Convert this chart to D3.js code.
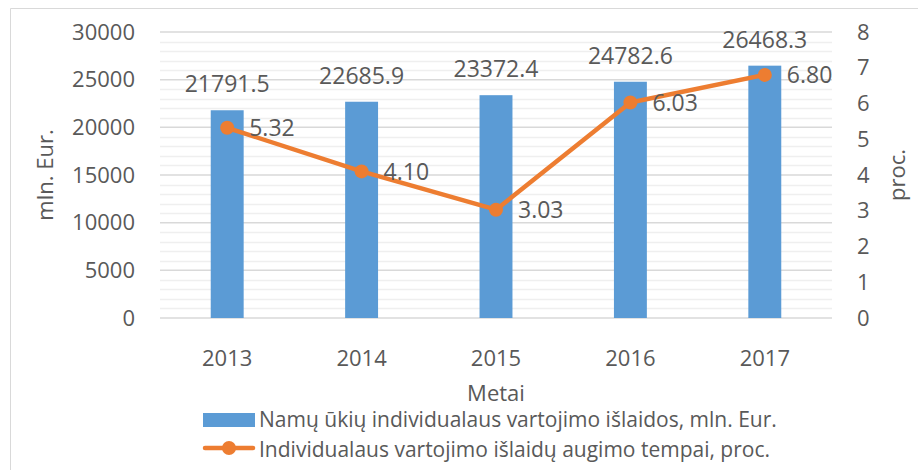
<!DOCTYPE html>
<html>
<head>
<meta charset="utf-8">
<script src="https://cdn.jsdelivr.net/npm/d3@7"></script>
<style>
  body { margin: 0; background: #fff; }
  text { font-family: "Open Sans", sans-serif; fill: #595959; }
</style>
</head>
<body>
<div id="chart"></div>
<script>
const years = ["2013", "2014", "2015", "2016", "2017"];
const spending = [21791.5, 22685.9, 23372.4, 24782.6, 26468.3];
const growth = [5.32, 4.10, 3.03, 6.03, 6.80];
const leftTicks = [0, 5000, 10000, 15000, 20000, 25000, 30000];
const rightTicks = [0, 1, 2, 3, 4, 5, 6, 7, 8];
const seriesNames = [
    "Namų ūkių individualaus vartojimo išlaidos, mln. Eur.",
    "Individualaus vartojimo išlaidų augimo tempai, proc."
];

const width = 918, height = 470;
const plot = { left: 160, right: 832, top: 32, bottom: 318 };
const blue = "#5B9BD5", orange = "#ED7D31";

const svg = d3.select("#chart").append("svg")
    .attr("width", width)
    .attr("height", height);

// frame (only top and left edges show in the crop)
svg.append("path")
    .attr("d", `M10.5,${height} V8.5 H${width}`)
    .attr("fill", "none")
    .attr("stroke", "#d9d9d9")
    .attr("stroke-width", 1);

const x = d3.scaleBand().domain(years).range([plot.left, plot.right]).padding(0);
const yL = d3.scaleLinear().domain([0, 30000]).range([plot.bottom, plot.top]);
const yR = d3.scaleLinear().domain([0, 8]).range([plot.bottom, plot.top]);

// minor gridlines
const grid = svg.append("g");
grid.selectAll("line.minor")
    .data(d3.range(0, 30001, 1000).filter(d => d % 5000 !== 0))
    .join("line")
    .attr("class", "minor")
    .attr("x1", plot.left).attr("x2", plot.right)
    .attr("y1", d => Math.round(yL(d)) + 0.5).attr("y2", d => Math.round(yL(d)) + 0.5)
    .attr("stroke", "#efefef").attr("stroke-width", 1.5);

// major gridlines
grid.selectAll("line.major")
    .data(leftTicks)
    .join("line")
    .attr("class", "major")
    .attr("x1", plot.left).attr("x2", plot.right)
    .attr("y1", d => yL(d)).attr("y2", d => yL(d))
    .attr("stroke", "#d9d9d9").attr("stroke-width", 1.5);

// left axis
const leftAxis = svg.append("g")
    .attr("transform", `translate(${plot.left - 25},0)`)
    .call(d3.axisLeft(yL).tickValues(leftTicks).tickSize(0).tickPadding(0).tickFormat(d3.format("d")));
leftAxis.select(".domain").remove();
leftAxis.selectAll("text").attr("font-size", 22).attr("font-family", "Open Sans").attr("fill", "#595959");

// right axis
const rightAxis = svg.append("g")
    .attr("transform", `translate(${plot.right + 25},0)`)
    .call(d3.axisRight(yR).tickValues(rightTicks).tickSize(0).tickPadding(0));
rightAxis.select(".domain").remove();
rightAxis.selectAll("text").attr("font-size", 22).attr("font-family", "Open Sans").attr("fill", "#595959");

// x axis
const xAxis = svg.append("g")
    .attr("transform", `translate(0,${plot.bottom + 32})`)
    .call(d3.axisBottom(x).tickSize(0).tickPadding(0));
xAxis.select(".domain").remove();
xAxis.selectAll("text").attr("font-size", 22).attr("font-family", "Open Sans").attr("fill", "#595959");

// axis titles
svg.append("text")
    .attr("transform", `translate(53,175) rotate(-90)`)
    .attr("text-anchor", "middle")
    .attr("font-size", 22)
    .text("mln. Eur.");
svg.append("text")
    .attr("transform", `translate(905,175) rotate(-90)`)
    .attr("text-anchor", "middle")
    .attr("font-size", 22)
    .text("proc.");
svg.append("text")
    .attr("x", (plot.left + plot.right) / 2)
    .attr("y", 401)
    .attr("text-anchor", "middle")
    .attr("font-size", 22)
    .text("Metai");

// bars
const barWidth = x.bandwidth() * 0.245;
svg.append("g").selectAll("rect")
    .data(years)
    .join("rect")
    .attr("x", (d) => x(d) + x.bandwidth() / 2 - barWidth / 2)
    .attr("width", barWidth)
    .attr("y", (d, i) => yL(spending[i]))
    .attr("height", (d, i) => yL(0) - yL(spending[i]))
    .attr("fill", blue);

// bar labels
svg.append("g").selectAll("text")
    .data(years)
    .join("text")
    .attr("x", d => x(d) + x.bandwidth() / 2)
    .attr("y", (d, i) => yL(spending[i]) - 18)
    .attr("text-anchor", "middle")
    .attr("font-size", 23)
    .attr("fill", "#404040")
    .text((d, i) => d3.format(".1f")(spending[i]));

// growth line
const line = d3.line()
    .x(d => x(d) + x.bandwidth() / 2)
    .y((d, i) => yR(growth[i]));
svg.append("path")
    .datum(years)
    .attr("d", line)
    .attr("fill", "none")
    .attr("stroke", orange)
    .attr("stroke-width", 4.5)
    .attr("stroke-linejoin", "round");

svg.append("g").selectAll("circle")
    .data(years)
    .join("circle")
    .attr("cx", d => x(d) + x.bandwidth() / 2)
    .attr("cy", (d, i) => yR(growth[i]))
    .attr("r", 7)
    .attr("fill", orange);

// line labels
svg.append("g").selectAll("text")
    .data(years)
    .join("text")
    .attr("x", d => x(d) + x.bandwidth() / 2 + 22)
    .attr("y", (d, i) => yR(growth[i]))
    .attr("dy", "0.36em")
    .attr("font-size", 23)
    .attr("fill", "#404040")
    .text((d, i) => d3.format(".2f")(growth[i]));

// legend
const legend = svg.append("g");
legend.append("rect")
    .attr("x", 203).attr("y", 413)
    .attr("width", 52).attr("height", 14)
    .attr("fill", blue);
legend.append("text")
    .attr("x", 259).attr("y", 427)
    .attr("font-size", 21)
    .text(seriesNames[0]);
legend.append("line")
    .attr("x1", 205).attr("x2", 253)
    .attr("y1", 448).attr("y2", 448)
    .attr("stroke", orange).attr("stroke-width", 4.5)
    .attr("stroke-linecap", "round");
legend.append("circle")
    .attr("cx", 229).attr("cy", 448).attr("r", 7)
    .attr("fill", orange);
legend.append("text")
    .attr("x", 259).attr("y", 457)
    .attr("font-size", 21)
    .text(seriesNames[1]);
</script>
</body>
</html>
